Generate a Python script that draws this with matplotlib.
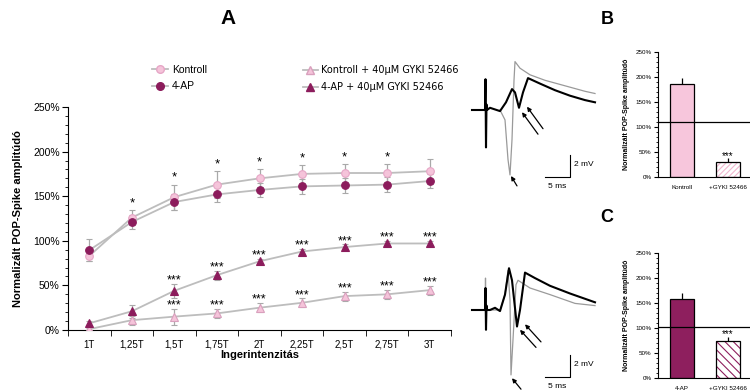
import matplotlib.pyplot as plt
import numpy as np
from matplotlib.lines import Line2D
from matplotlib.ticker import MultipleLocator, FuncFormatter

# ---- panel A data (percent of control) ----
intensities = ["1T", "1,25T", "1,5T", "1,75T", "2T", "2,25T", "2,5T", "2,75T", "3T"]
kontroll = [83, 126, 149, 163, 170, 175, 176, 176, 178]
kontroll_err = [6, 8, 14, 15, 10, 10, 10, 10, 14]
ap4 = [89.5, 121, 143.5, 152, 157, 161, 162, 163, 167]
ap4_err = [12, 8, 9, 8, 8, 8, 8, 8, 8]
kontroll_gyki = [1, 11, 15, 18.6, 25, 30.5, 38, 40, 44.7]
kontroll_gyki_err = [1, 5, 9, 5, 5, 5, 5, 5, 5]
ap4_gyki = [7.5, 21, 44, 61.5, 77, 88, 93, 97, 97]
ap4_gyki_err = [3, 7, 8, 5, 3, 3, 3, 3, 3]
star_idx = [1, 2, 3, 4, 5, 6, 7]
triple_idx = [2, 3, 4, 5, 6, 7, 8]

# ---- panels B, C ----
b_labels = ["Kontroll", "+GYKI 52466"]
b_values = [185, 29]
b_err = [14, 8]
b_ref = 109
c_labels = ["4-AP", "+GYKI 52466"]
c_values = [159, 74]
c_err = [12, 9]
c_ref = 103

# ---- example traces (ms, mV) ----
top_black_t = [-2.6, 0, 0.1, 0.2, 0.3, 0.4, 1, 3, 4.2, 5.4, 6, 6.8, 7.6, 8.6, 11, 14, 17, 20, 22]
top_black_v = [0, 0, 2.8, -3.4, 0.5, 0, 0.2, -0.1, 0.7, 1.9, 1.6, 0.2, 1.6, 2.9, 2.4, 1.8, 1.3, 0.9, 0.7]
top_grey_t = [3, 4, 4.6, 5, 5.4, 5.8, 6, 7, 9, 12, 16, 20, 22]
top_grey_v = [0, -0.9, -4.5, -5.9, -2.7, 2.7, 4.4, 3.8, 3.2, 2.7, 2.2, 1.7, 1.5]
bot_black_t = [-2.6, 0, 0.1, 0.2, 0.3, 0.4, 1, 2, 3, 4, 4.8, 5.4, 6.4, 7, 8, 10, 13, 17, 22]
bot_black_v = [0, 0, 2.0, -1.8, 0.4, 0, 0, 0.2, -0.1, 1.4, 3.8, 2.7, -1.5, 0, 3.4, 2.9, 2.2, 1.5, 0.7]
bot_grey_t = [0, 0.1, 0.2, 3, 4, 4.6, 5, 5.2, 5.6, 6.2, 6.6, 9, 13, 18, 22]
bot_grey_v = [0, 2.9, 0, 0, 1.4, 3.6, 0.9, -5.9, -2.7, 2.3, 2.7, 2.0, 1.4, 0.6, 0.4]

LIGHT = "#f5c4da"
LIGHT_EDGE = "#e6a6c6"
DARK = "#8c1c5c"
LINE = "#bdbdbd"
ERR = "#a9a9a9"

plt.rcParams["font.family"] = ["Liberation Sans", "DejaVu Sans"]

W, H = 750, 390
fig = plt.figure(figsize=(7.5, 3.9), dpi=100)


def px_axes(left, top, right, bottom):
    return fig.add_axes([left / W, 1 - bottom / H, (right - left) / W, (bottom - top) / H])


# ================= panel A =================
ax = px_axes(68, 107, 451, 330)
x = np.arange(len(intensities))
series = [
    (kontroll, kontroll_err, "o", LIGHT, LIGHT_EDGE),
    (ap4, ap4_err, "o", DARK, DARK),
    (kontroll_gyki, kontroll_gyki_err, "^", LIGHT, "#d9a0bd"),
    (ap4_gyki, ap4_gyki_err, "^", DARK, DARK),
]
for vals, err, mk, fc, ec in series:
    ax.errorbar(x, vals, yerr=err, color=LINE, ecolor=ERR, elinewidth=0.9, capsize=2.5,
                capthick=0.9, lw=1.3, marker=mk, ms=5.5, mfc=fc, mec=ec, mew=0.8, zorder=3)

for i in star_idx:
    ax.text(x[i], kontroll[i] + kontroll_err[i] + 1, "*", ha="center", va="bottom", fontsize=9.5)
for vals, err in [(ap4_gyki, ap4_gyki_err), (kontroll_gyki, kontroll_gyki_err)]:
    for i in triple_idx:
        ax.text(x[i], vals[i] + err[i] - 3, "***", ha="center", va="bottom", fontsize=9)

ax.set_xlim(-0.5, len(intensities) - 0.5)
ax.set_ylim(0, 250)
ax.set_xticks(x)
ax.set_xticklabels(intensities, fontsize=7)
ax.set_xticks(np.arange(len(intensities) + 1) - 0.5, minor=True)
ax.tick_params(axis="x", which="major", length=0, pad=7)
ax.tick_params(axis="x", which="minor", length=4, direction="out")
ax.yaxis.set_major_locator(MultipleLocator(50))
ax.yaxis.set_minor_locator(MultipleLocator(10))
ax.yaxis.set_major_formatter(FuncFormatter(lambda v, p: f"{v:.0f}%"))
ax.tick_params(axis="y", which="major", length=4, labelsize=7.5, pad=2)
ax.tick_params(axis="y", which="minor", length=2)
for s in ["top", "right"]:
    ax.spines[s].set_visible(False)
ax.set_ylabel("Normalizált POP-Spike amplitúdó", fontsize=8, fontweight="bold", labelpad=7)
ax.set_xlabel("Ingerintenzitás", fontsize=8, fontweight="bold", labelpad=0)

leg1 = [
    Line2D([], [], color=LINE, marker="o", mfc=LIGHT, mec=LIGHT_EDGE, ms=5.5, lw=1.3),
    Line2D([], [], color=LINE, marker="o", mfc=DARK, mec=DARK, ms=5.5, lw=1.3),
]
fig.legend(leg1, ["Kontroll", "4-AP"], loc="upper left", bbox_to_anchor=(152 / W, 1 - 65 / H),
           frameon=False, fontsize=7.5, handlelength=1.5, handletextpad=0.4, labelspacing=0.6,
           borderpad=0, borderaxespad=0)
leg2 = [
    Line2D([], [], color=LINE, marker="^", mfc=LIGHT, mec="#d9a0bd", ms=5.5, lw=1.3),
    Line2D([], [], color=LINE, marker="^", mfc=DARK, mec=DARK, ms=5.5, lw=1.3),
]
fig.legend(leg2, ["Kontroll + 40µM GYKI 52466", "4-AP + 40µM GYKI 52466"], loc="upper left",
           bbox_to_anchor=(303 / W, 1 - 65 / H), frameon=False,
           prop={"family": "DejaVu Sans", "size": 7}, handlelength=1.5, handletextpad=0.4,
           labelspacing=0.75, borderpad=0, borderaxespad=0)

fig.text(228 / W, 1 - 18 / H, "A", fontsize=15, fontweight="bold", ha="center", va="center")
fig.text(607 / W, 1 - 19 / H, "B", fontsize=13, fontweight="bold", ha="center", va="center")
fig.text(607 / W, 1 - 217 / H, "C", fontsize=13, fontweight="bold", ha="center", va="center")


# ================= traces =================
def draw_trace(axt, bt, bv, gt, gv, dbl, single):
    axt.plot(gt, gv, color="#9a9a9a", lw=0.9)
    axt.plot(bt, bv, color="black", lw=1.5)
    axt.set_xlim(-4, 23)
    axt.set_ylim(-80 / 11, 60 / 11)
    axt.axis("off")
    arrow = dict(arrowstyle="-|>", color="black", lw=0.9, mutation_scale=6, shrinkA=0, shrinkB=0)
    for head, tail in dbl + [single]:
        axt.annotate("", xy=head, xytext=tail, arrowprops=arrow, annotation_clip=False)
    axt.plot([12, 17, 17], [-6.1, -6.1, -4.1], color="black", lw=0.8)
    axt.text(17.7, -5.0, "2 mV", fontsize=6, va="center", ha="left")
    axt.text(14.5, -6.6, "5 ms", fontsize=6, va="top", ha="center")


ax_t1 = px_axes(465, 50, 600, 190)
draw_trace(ax_t1, top_black_t, top_black_v, top_grey_t, top_grey_v,
           [((7.4, -0.2), (10.6, -2.2)), ((8.4, 0.3), (11.6, -1.7))], ((5.2, -6.0), (6.4, -6.9)))
ax_t2 = px_axes(465, 250, 600, 390)
draw_trace(ax_t2, bot_black_t, bot_black_v, bot_grey_t, bot_grey_v,
           [((7.0, -1.8), (10.2, -3.4)), ((8.0, -1.3), (11.2, -2.9))], ((5.4, -6.2), (7.2, -7.2)))


# ================= panels B, C =================
def bar_panel(axb, labels, values, err, ref, color, hatch_color, hatch):
    xb = np.arange(len(labels))
    axb.bar(xb[0], values[0], width=0.52, color=color, edgecolor="black", lw=0.9)
    axb.bar(xb[1], values[1], width=0.52, color="white", edgecolor=hatch_color, hatch=hatch, lw=0)
    axb.bar(xb[1], values[1], width=0.52, color="none", edgecolor="black", lw=0.9)
    axb.errorbar(xb, values, yerr=[[0, 0], err], fmt="none", ecolor="black", elinewidth=0.9,
                 capsize=0)
    axb.axhline(ref, color="black", lw=0.9)
    axb.text(xb[1], values[1] + err[1] - 6, "***", ha="center", va="bottom", fontsize=7)
    axb.set_xlim(-0.52, 1.48)
    axb.set_ylim(0, 250)
    axb.set_xticks(xb)
    axb.set_xticklabels(labels, fontsize=4.5)
    axb.tick_params(axis="x", length=0, pad=6)
    axb.yaxis.set_major_locator(MultipleLocator(50))
    axb.yaxis.set_minor_locator(MultipleLocator(10))
    axb.yaxis.set_major_formatter(FuncFormatter(lambda v, p: f"{v:.0f}%"))
    axb.tick_params(axis="y", which="major", length=3, labelsize=4.5, pad=1.5)
    axb.tick_params(axis="y", which="minor", length=1.5)
    for s in ["top", "right"]:
        axb.spines[s].set_visible(False)
    axb.spines["left"].set_linewidth(0.8)
    axb.spines["bottom"].set_linewidth(0.8)
    axb.set_ylabel("Normalizált POP-Spike amplitúdó", fontsize=5, fontweight="bold", labelpad=4)


plt.rcParams["hatch.linewidth"] = 0.8
ax_b = px_axes(658, 52, 750, 177)
bar_panel(ax_b, b_labels, b_values, b_err, b_ref, "#f7c6dc", "#f2b6cf", "//////")
ax_c = px_axes(658, 253, 750, 378)
bar_panel(ax_c, c_labels, c_values, c_err, c_ref, "#8e1f5e", "#8e1f5e", "\\\\\\\\")

fig.savefig("out.png", dpi=100)
